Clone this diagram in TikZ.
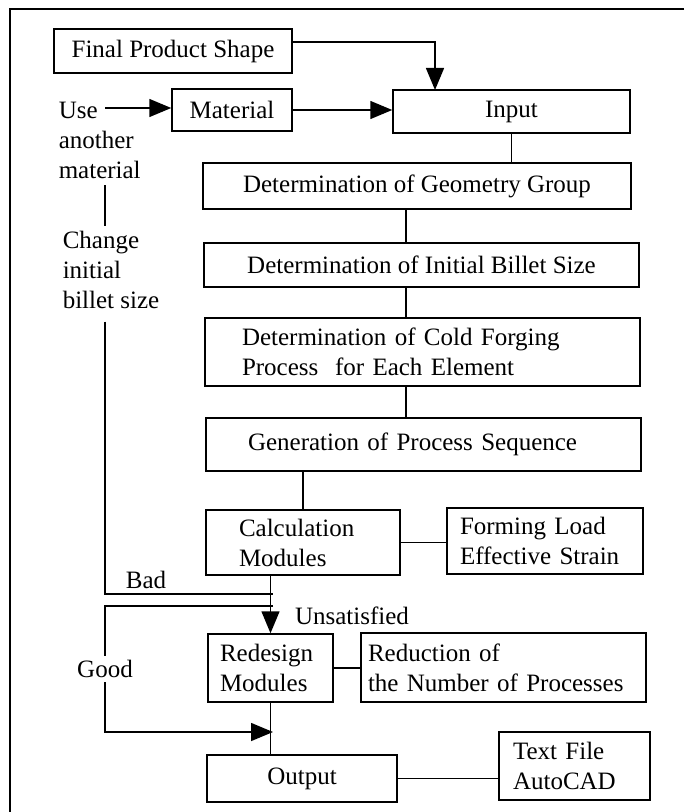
\documentclass[tikz,border=0pt]{standalone}
\usepackage{fontspec}
\setmainfont{Liberation Serif}
\usetikzlibrary{arrows.meta, positioning}

\begin{document}
\begin{tikzpicture}[x=0.5pt, y=-0.5pt, line width=0.75pt,
  font=\fontsize{12.5}{15}\selectfont,
  box/.style={draw, inner sep=0pt},
  lbox/.style={box, align=left, text width=#1},
  lbl/.style={inner sep=0pt, align=left},
  arr/.style={-{Triangle[length=11pt, width=9pt]}}]
\useasboundingbox (0,0) rectangle (684,812);
\draw [line width=1pt] (684,9) -- (10,9) -- (10,812);

\node [box, minimum width=119pt, minimum height=22pt] (fps) at (173,51) {Final Product Shape};
\node [box, minimum width=60pt, minimum height=21pt] (mat) at (232,110) {Material};
\node [box, minimum width=118.5pt, minimum height=21.5pt] (inp) at (511.5,111.5) {Input};
\node [box, minimum width=214pt, minimum height=23pt] (geo) at (417,186) {Determination of Geometry Group};
\node [box, minimum width=217.5pt, minimum height=22pt] (bil) at (421.5,265) {Determination of Initial Billet Size};
\node [lbox=180.5pt, minimum width=217.5pt, minimum height=34pt] (cold) at (422.5,352) {Determination of Cold Forging\\Process\ \ for Each Element};
\node [lbox=175.5pt, minimum width=217.5pt, minimum height=26.5pt] (gen) at (423.5,444.5) {Generation of Process Sequence};
\node [lbox=64pt, minimum width=97pt, minimum height=32.5pt] (calc) at (303,542.5) {Calculation\\Modules};
\node [lbox=85pt, minimum width=98pt, minimum height=33pt] (form) at (545,541) {Forming Load\\Effective Strain};
\node [lbox=50.5pt, minimum width=62.5pt, minimum height=34pt] (red) at (270.5,668) {Redesign\\Modules};
\node [lbox=135.5pt, minimum width=142.5pt, minimum height=34.5pt] (redu) at (503.5,667.5) {Reduction of\\the Number of Processes};
\node [box, minimum width=95pt, minimum height=23.5pt] (out) at (302,778.5) {Output};
\node [lbox=61.5pt, minimum width=75.5pt, minimum height=34pt] (txt) at (574.5,766) {Text File\\AutoCAD};

\node [lbl, anchor=west] (use) at (58,140) {Use\\another\\material};
\node [lbl, anchor=west] (chg) at (62,270) {Change\\initial\\billet size};
\node [inner sep=0pt] (bad) at (146,580) {Bad};
\node [inner sep=0pt] (uns) at (352,616) {Unsatisfied};

\coordinate (usee) at (105,108);
\coordinate (fpsin) at (435,90);
\coordinate (spine) at (406,0);
\coordinate (badj) at (273,594);
\coordinate (goodj) at (273,606);
\coordinate (goodo) at (273,732);

\draw [arr] ([yshift=4.5pt]fps.east) -| (fpsin);
\draw [arr] (usee) -- (usee -| mat.west);
\draw [arr] (mat.east) -- (mat.east -| inp.west);
\draw (inp.south) -- (inp.south |- geo.north);
\foreach \a/\b in {geo/bil, bil/cold, cold/gen} \draw (\a.south -| spine) -- (\b.north -| spine);
\draw (gen.south -| calc.north) -- (calc.north);
\draw (calc.east) -- (calc.east -| form.west);
\draw [arr] (calc.south -| red.north) -- (red.north);
\draw (red.east) -- (red.east -| redu.west);
\draw (red.south) -- (red.south |- out.north);
\draw (out.east) -- (out.east -| txt.west);
\draw [shorten <=3pt, shorten >=2pt] (use.south -| usee) -- (chg.north -| usee);
\draw [shorten <=6pt] (chg.south -| usee) |- (badj);
\draw [arr] (goodj) -- (goodj -| usee) -- node [fill=white, inner sep=2pt] (good) {Good} (goodo -| usee) -- (goodo);
\end{tikzpicture}
\end{document}
